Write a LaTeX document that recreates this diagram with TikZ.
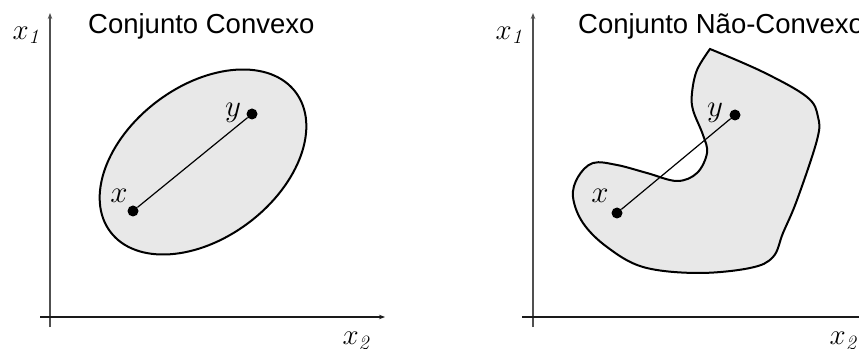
\RequirePackage{fix-cm}
\documentclass[tikz,border=0pt]{standalone}
\usepackage{fontspec}
\newfontfamily\titlefont{Liberation Sans}
\usetikzlibrary{arrows.meta}
\definecolor{regionfill}{HTML}{E8E8E8}
\definecolor{vaxis}{HTML}{505050}
\definecolor{haxis}{HTML}{1A1A1A}
\tikzset{
  vaxisline/.style={draw=vaxis, line width=1.3pt, -{Stealth[length=6pt,width=4.5pt]}},
  haxisline/.style={draw=haxis, line width=1.8pt, -{Stealth[length=6pt,width=4.5pt]}},
  regionshape/.style={draw=black, line width=2pt, fill=regionfill},
  dotnode/.style={circle, fill=black, inner sep=0pt, minimum size=11pt},
  segment/.style={draw=black, line width=1.2pt},
  titletext/.style={font=\titlefont\fontsize{27.5}{32}\selectfont, inner sep=0pt, anchor=base west},
  axislabel/.style={font=\fontsize{29}{34}\selectfont, inner sep=0pt},
  ptlabel/.style={font=\fontsize{31}{36}\selectfont, inner sep=0pt}
}
\begin{document}
\begin{tikzpicture}[x=1pt,y=1pt]
\useasboundingbox (0,0) rectangle (859,348);
% ---------- left panel ----------
\coordinate (lv0) at (50,21);
\coordinate (lv1) at (50,335);
\coordinate (lh0) at (40,31);
\coordinate (lh1) at (385,31);
\draw[vaxisline] (lv0) -- (lv1);
\draw[haxisline] (lh0) -- (lh1);
\node[axislabel] (lx1) at (26,313) {$x_{\mathit{1}}$};
\node[axislabel] (lx2) at (356,7) {$x_{\mathit{2}}$};
\node[titletext] (ltitle) at (88,314) {Conjunto Convexo};
\draw[regionshape] (203,186) ellipse [x radius=116, y radius=76, rotate=37];
\node[dotnode] (lpx) at (133,137) {};
\node[dotnode] (lpy) at (252,234) {};
\draw[segment] (lpx) -- (lpy);
\node[ptlabel] (llx) at (119,152) {$x$};
\node[ptlabel] (lly) at (233,235) {$y$};
% ---------- right panel ----------
\coordinate (rv0) at (533,21);
\coordinate (rv1) at (533,335);
\coordinate (rh0) at (522,31);
\coordinate (rh1) at (875,31);
\draw[vaxisline] (rv0) -- (rv1);
\draw[haxisline] (rh0) -- (rh1);
\node[axislabel] (rx1) at (509,313) {$x_{\mathit{1}}$};
\node[axislabel] (rx2) at (843,7) {$x_{\mathit{2}}$};
\node[titletext] (rtitle) at (578,314) {Conjunto Não-Convexo};
\draw[regionshape] plot[smooth, tension=0.6] coordinates {
  (710,299) (763,276) (807,251) (818,231) (817,208) (797,148) (783,115)
  (773,91) (750,80) (697,75) (643,81) (607,101) (583,125) (573,151)
  (578,171) (593,185) (617,183) (647,175) (677,167) (697,175) (707,195)
  (703,213) (693,238) (692,255) (697,278) (710,299)} -- cycle;
\node[dotnode] (rpx) at (617,135) {};
\node[dotnode] (rpy) at (735,233) {};
\draw[segment] (rpx) -- (rpy);
\node[ptlabel] (rlx) at (600,152) {$x$};
\node[ptlabel] (rly) at (715,235) {$y$};
\end{tikzpicture}
\end{document}
